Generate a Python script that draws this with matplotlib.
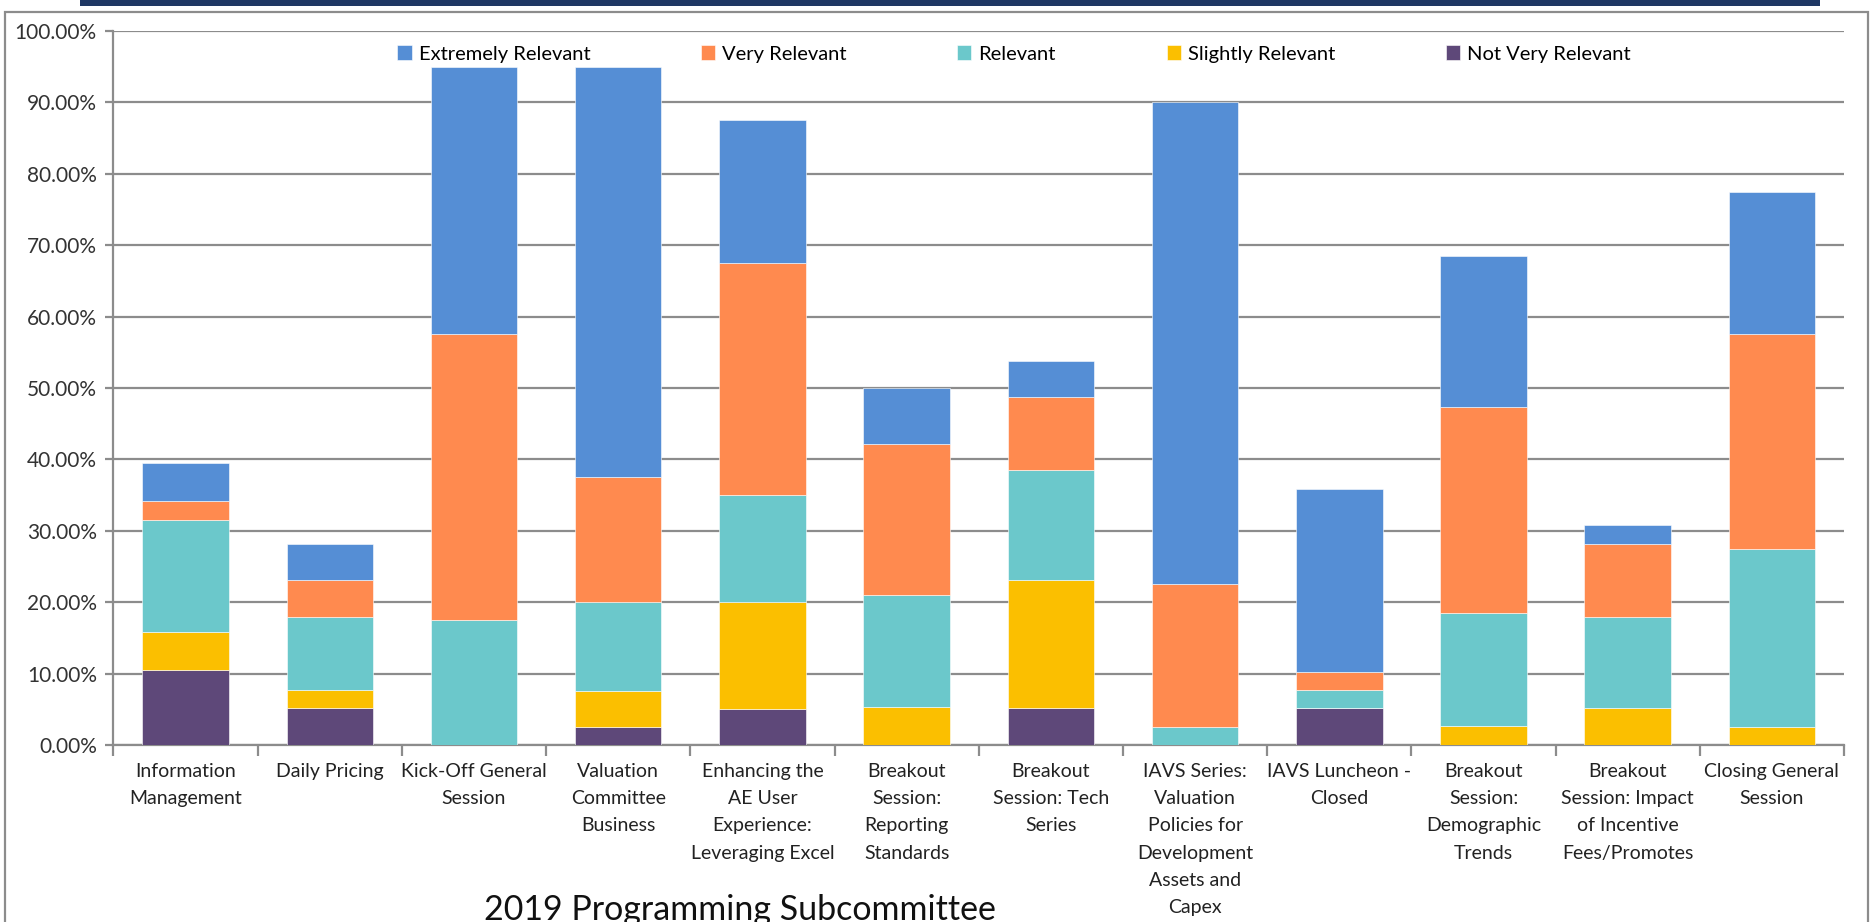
import numpy as np
import matplotlib
matplotlib.use('Agg')
import matplotlib.pyplot as plt
from matplotlib.patches import Rectangle

sessions = [
    'Information\nManagement',
    'Daily Pricing',
    'Kick-Off General\nSession',
    'Valuation\nCommittee\nBusiness',
    'Enhancing the\nAE User\nExperience:\nLeveraging Excel',
    'Breakout\nSession:\nReporting\nStandards',
    'Breakout\nSession: Tech\nSeries',
    'IAVS Series:\nValuation\nPolicies for\nDevelopment\nAssets and\nCapex',
    'IAVS Luncheon -\nClosed',
    'Breakout\nSession:\nDemographic\nTrends',
    'Breakout\nSession: Impact\nof Incentive\nFees/Promotes',
    'Closing General\nSession',
]

# percent of respondents per rating
not_very = [10.53, 5.13, 0, 2.50, 5.00, 0, 5.13, 0, 5.13, 0, 0, 0]
slightly = [5.26, 2.56, 0, 5.00, 15.00, 5.26, 17.95, 0, 0, 2.63, 5.13, 2.50]
relevant = [15.79, 10.26, 17.50, 12.50, 15.00, 15.79, 15.38, 2.50, 2.56, 15.79, 12.82, 25.00]
very = [2.63, 5.13, 40.00, 17.50, 32.50, 21.05, 10.26, 20.00, 2.56, 28.95, 10.26, 30.00]
extremely = [5.26, 5.13, 37.50, 57.50, 20.00, 7.89, 5.13, 67.50, 25.64, 21.05, 2.56, 20.00]

series_names = ['Not Very Relevant', 'Slightly Relevant', 'Relevant', 'Very Relevant', 'Extremely Relevant']
series_colors = ['#5E4879', '#FBBF00', '#6BC8CB', '#FF8A4F', '#558ED5']

W, H = 1874, 922
FONT = 'Lato'


def draw_chart(fig):
    ax = fig.add_axes([113.5 / W, 1 - 745 / H, (1844 - 113.5) / W, (745 - 31) / H])
    x = np.arange(len(sessions))
    bottom = np.zeros(len(sessions))
    bars = {}
    for name, vals, col in zip(series_names, [not_very, slightly, relevant, very, extremely], series_colors):
        v = np.array(vals) / 100.0
        bars[name] = ax.bar(x, v, 0.6, bottom=bottom, color=col, edgecolor='white', linewidth=0.4, zorder=3)
        bottom += v

    ax.set_xlim(-0.5, len(sessions) - 0.5)
    ax.set_ylim(0, 1.0)
    ax.set_yticks(np.arange(0, 1.01, 0.1))
    ax.set_yticklabels(['{:.2f}%'.format(t * 100) for t in np.arange(0, 1.01, 0.1)],
                       fontsize=15, family=FONT, color='#333333')
    ax.yaxis.grid(True, color='#8C8C8C', linewidth=1.6, zorder=0)
    ax.set_axisbelow(True)

    ax.set_xticks(x)
    ax.set_xticklabels(sessions, fontsize=14, family=FONT, color='#222222', linespacing=1.73, va='top')
    ax.tick_params(axis='x', length=0, pad=13)
    ax.set_xticks(np.arange(-0.5, len(sessions), 1), minor=True)
    ax.tick_params(axis='x', which='minor', length=8, width=1.6, color='#8C8C8C', direction='out')
    ax.tick_params(axis='y', length=6, width=1.6, color='#8C8C8C', pad=6)

    for s in ['top', 'right']:
        ax.spines[s].set_visible(False)
    for s in ['left', 'bottom']:
        ax.spines[s].set_color('#8C8C8C')
        ax.spines[s].set_linewidth(1.6)

    order = series_names[::-1]
    ax.legend([bars[n] for n in order], order, ncol=5, frameon=False,
              loc='center', bbox_to_anchor=(1014 / W, 1 - 54 / H), bbox_transform=fig.transFigure,
              prop={'family': FONT, 'size': 14.5}, handlelength=0.7, handleheight=0.7,
              handletextpad=0.35, columnspacing=5.5)
    return ax


def draw_frame(fig):
    # outer chart border and the slide's navy strip
    fig.patches.append(Rectangle((5 / W, -0.05), (1868 - 5) / W, 1.05 - 12 / H, transform=fig.transFigure,
                                 fill=False, edgecolor='#8C8C8C', linewidth=1.6))
    fig.patches.append(Rectangle((80 / W, 1 - 6 / H), (1820 - 80) / W, 6 / H, transform=fig.transFigure,
                                 facecolor='#1F3864', edgecolor='none'))
    fig.text(484 / W, 1 - 910 / H, '2019 Programming Subcommittee', fontsize=24.5, family=FONT,
             color='#111111', ha='left', va='center')


def main():
    fig = plt.figure(figsize=(W / 100, H / 100), dpi=100)
    draw_chart(fig)
    draw_frame(fig)
    fig.savefig('out.png', dpi=100)


if __name__ == "__main__":
    main()
